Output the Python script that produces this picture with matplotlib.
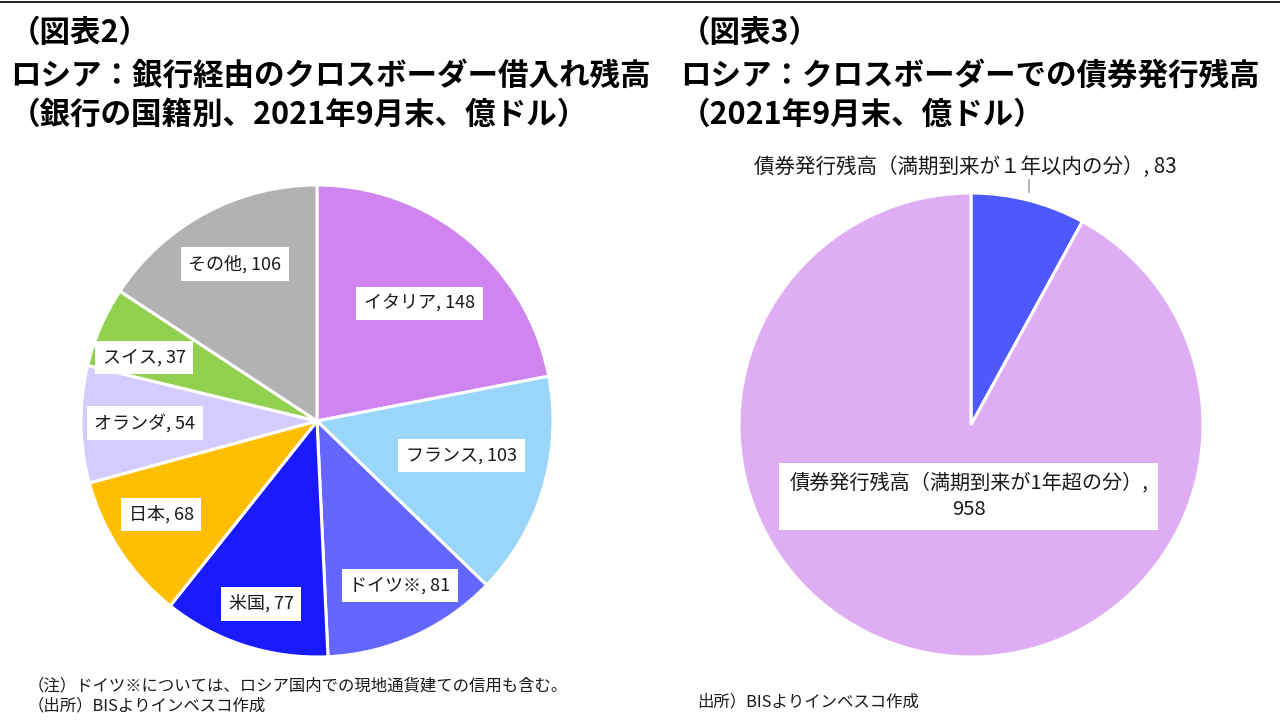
import numpy as np
import matplotlib
matplotlib.use("Agg")
import matplotlib.pyplot as plt
from matplotlib.lines import Line2D

plt.rcParams['font.family'] = ['Noto Sans CJK JP', 'DejaVu Sans']

# ---------------- data ----------------
left_labels = ["イタリア", "フランス", "ドイツ※", "米国", "日本", "オランダ", "スイス", "その他"]
left_values = [148, 103, 81, 77, 68, 54, 37, 106]
left_colors = ["#CF84EF", "#9AD5FA", "#6565FF", "#1A1AFF", "#FFBF00", "#D4CCFF", "#92D050", "#B2B2B2"]

right_labels = ["債券発行残高（満期到来が１年以内の分）", "債券発行残高（満期到来が1年超の分）"]
right_values = [83, 958]
right_colors = ["#4D58FF", "#DFADF3"]

left_title = ["（図表2）", "ロシア：銀行経由のクロスボーダー借入れ残高", "（銀行の国籍別、2021年9月末、億ドル）"]
right_title = ["（図表3）", "ロシア：クロスボーダーでの債券発行残高", "（2021年9月末、億ドル）"]
left_notes = ["（注）ドイツ※については、ロシア国内での現地通貨建ての信用も含む。", "（出所）BISよりインベスコ作成"]
right_notes = ["出所）BISよりインベスコ作成"]

# label layout (radius fraction, angle adjustment in degrees)
left_label_pos = [(0.66, -1.6), (0.63, 3.0), (0.78, 2.4), (0.81, 0.9),
                  (0.77, -2.4), (0.73, 0.0), (0.78, 3.4), (0.75, -0.7)]

W, H = 1280, 720
fig = plt.figure(figsize=(12.8, 7.2), dpi=100)
fig.patch.set_facecolor("white")

# top border line
fig.add_artist(Line2D([0, 1], [1 - 2.0 / H, 1 - 2.0 / H], color="black", lw=1.2,
                      transform=fig.transFigure))


def pie_axes(cx, cy, r):
    return fig.add_axes([(cx - r) / W, (H - cy - r) / H, 2 * r / W, 2 * r / H])


box = dict(boxstyle="square,pad=0.42", facecolor="white", edgecolor="none")

# ---------------- left pie ----------------
axl = pie_axes(317, 421, 236)
wedges, _ = axl.pie(left_values, colors=left_colors, startangle=90, counterclock=False,
                    radius=1.0, wedgeprops=dict(edgecolor="white", linewidth=2.2))
axl.set_xlim(-1, 1)
axl.set_ylim(-1, 1)
axl.set_aspect("auto")
axl.axis("off")
for w, lab, val, (rr, dth) in zip(wedges, left_labels, left_values, left_label_pos):
    ang = np.deg2rad((w.theta1 + w.theta2) / 2 + dth)
    axl.text(rr * np.cos(ang), rr * np.sin(ang), f"{lab}, {val}", ha="center", va="center",
             fontsize=13, color="#1a1a1a", bbox=box)

# ---------------- right pie ----------------
axr = pie_axes(971, 425, 232)
wedges_r, _ = axr.pie(right_values, colors=right_colors, startangle=90, counterclock=False,
                      radius=1.0, wedgeprops=dict(edgecolor="white", linewidth=2.2))
axr.set_xlim(-1, 1)
axr.set_ylim(-1, 1)
axr.set_aspect("auto")
axr.axis("off")

# small slice label (above pie with leader line)
w0 = wedges_r[0]
mid0 = np.deg2rad((w0.theta1 + w0.theta2) / 2)
lx = np.cos(mid0)
axr.plot([lx, lx], [1.005, 1.055], color="#A6A6A6", lw=1.2, clip_on=False)
axr.text(-0.026, 1.112, f"{right_labels[0]}, {right_values[0]}", ha="center", va="center",
         fontsize=14.8, color="#1a1a1a", clip_on=False)

# big slice label
w1 = wedges_r[1]
mid1 = np.deg2rad((w1.theta1 + w1.theta2) / 2 + 12.7)
axr.text(0.31 * np.cos(mid1), 0.31 * np.sin(mid1), f"{right_labels[1]},\n{right_values[1]}",
         ha="center", va="center", fontsize=14.5, color="#1a1a1a", linespacing=1.3,
         bbox=dict(boxstyle="square,pad=0.5", facecolor="white", edgecolor="none"))

# ---------------- titles ----------------
title_y = [33, 76, 115]
for t, y in zip(left_title, title_y):
    fig.text(10 / W, 1 - y / H, t, fontsize=22, fontweight="bold", ha="left", va="center")
for t, y in zip(right_title, title_y):
    fig.text(680 / W, 1 - y / H, t, fontsize=22, fontweight="bold", ha="left", va="center")

# ---------------- notes ----------------
for t, y in zip(left_notes, [686, 706]):
    fig.text(28 / W, 1 - y / H, t, fontsize=11.8, ha="left", va="center", color="#1a1a1a")
for t, y in zip(right_notes, [702]):
    fig.text(697 / W, 1 - y / H, t, fontsize=11.8, ha="left", va="center", color="#1a1a1a")

fig.savefig("out.png", dpi=100, facecolor="white")
